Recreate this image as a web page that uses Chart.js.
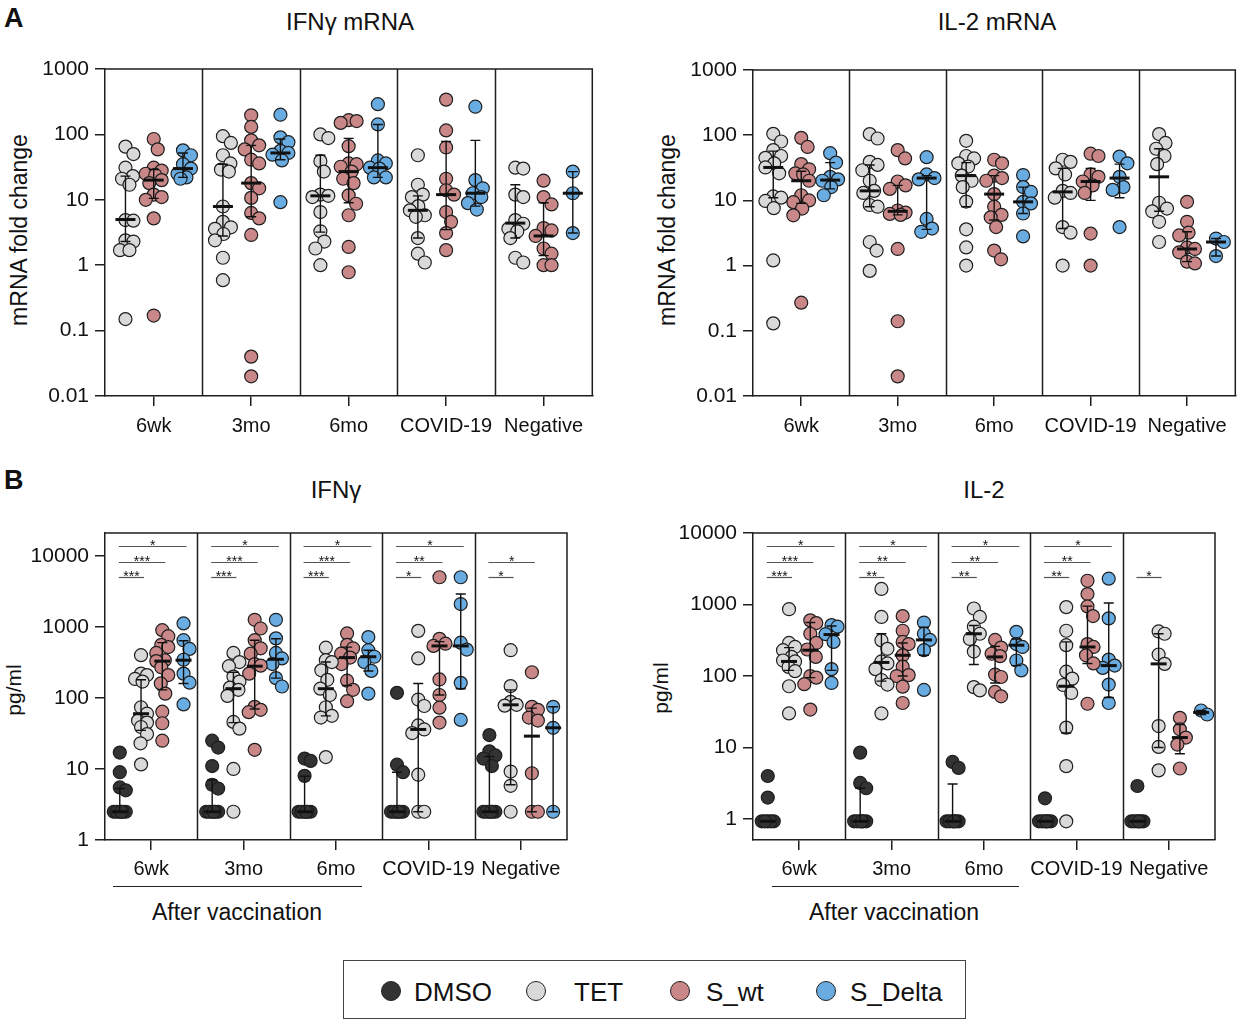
<!DOCTYPE html>
<html lang="en">
<head>
  <meta charset="UTF-8" />
  <title>IFNγ and IL-2 responses</title>
  <script src="https://cdn.jsdelivr.net/npm/chart.js"></script>
  <style>
    body { margin: 0; background: #fff; font-family: "Liberation Sans", Arial, sans-serif; color: #111; }
    .fig { position: relative; width: 1243px; height: 1020px; overflow: hidden; }
    .fig canvas { position: absolute; }
    .txt { position: absolute; transform: translate(-50%, -50%); white-space: nowrap; }
    .rot { transform: translate(-50%, -50%) rotate(-90deg); }
    .letter { position: absolute; font-weight: bold; font-size: 27px; line-height: 27px; }
    .rule { position: absolute; height: 0; border-top: 1.5px solid #222; }
    .legend { position: absolute; left: 343px; top: 960px; width: 621px; height: 57px; border: 1.5px solid #444; }
    .dot { position: absolute; width: 18px; height: 18px; border-radius: 50%; border: 1px solid #222; transform: translate(-50%, -50%); }
    .lab { position: absolute; font-size: 26px; transform: translateY(-50%); white-space: nowrap; }
  </style>
</head>
<body>
  <div class="fig">
    <div class="letter" style="left:4px; top:5px;">A</div>
    <div class="txt" style="left:350px; top:22px; font-size:24px;">IFNγ mRNA</div>
    <div class="txt" style="left:997px; top:22px; font-size:24px;">IL-2 mRNA</div>
    <div class="txt rot" style="left:19px; top:230px; font-size:23px;">mRNA fold change</div>
    <div class="txt rot" style="left:667px; top:230px; font-size:23px;">mRNA fold change</div>
    <canvas id="aIfn" width="600" height="400" style="left:0; top:50px;"></canvas>
    <canvas id="aIl2" width="603" height="400" style="left:640px; top:50px;"></canvas>

    <div class="letter" style="left:4px; top:467px;">B</div>
    <div class="txt" style="left:336px; top:490px; font-size:24px;">IFNγ</div>
    <div class="txt" style="left:984px; top:490px; font-size:24px;">IL-2</div>
    <div class="txt rot" style="left:14px; top:690px; font-size:21px;">pg/ml</div>
    <div class="txt rot" style="left:661px; top:688px; font-size:21px;">pg/ml</div>
    <canvas id="bIfn" width="600" height="380" style="left:0; top:500px;"></canvas>
    <canvas id="bIl2" width="603" height="380" style="left:640px; top:500px;"></canvas>

    <div class="rule" style="left:113px; top:886px; width:249px;"></div>
    <div class="txt" style="left:237px; top:912px; font-size:23px;">After vaccination</div>
    <div class="rule" style="left:772px; top:886px; width:247px;"></div>
    <div class="txt" style="left:894px; top:912px; font-size:23px;">After vaccination</div>

    <div class="legend" id="legend"></div>
  </div>

  <script>
    const groups = ['6wk', '3mo', '6mo', 'COVID-19', 'Negative'];
    const seriesA = ['TET', 'S_wt', 'S_Delta'];
    const seriesB = ['DMSO', 'TET', 'S_wt', 'S_Delta'];
    const ticksA = [0.01, 0.1, 1, 10, 100, 1000];
    const ticksB = [1, 10, 100, 1000, 10000];

    // A: IFNγ mRNA fold change, one list per group
    const aIfnTet = [
      [65, 50, 31, 23, 21, 17, 4.9, 4.8, 2.4, 2.3, 1.7, 1.7, 0.15],
      [94, 74, 48, 36, 29, 27, 7.9, 4.6, 3.8, 3.6, 3.0, 2.4, 1.3, 0.59],
      [100, 88, 39, 27, 12, 11.5, 11, 6.5, 3.3, 2.3, 1.8, 1.0],
      [48, 17, 12, 11, 8, 6.9, 5.8, 5.5, 2.6, 1.5, 1.1],
      [31, 30, 12, 11, 4.9, 4.3, 3.6, 3.3, 2.6, 1.3, 1.1]
    ];
    const aIfnSwt = [
      [85, 59, 31, 28, 25, 24, 20, 18, 12, 11, 10, 5.2, 0.17],
      [196, 130, 81, 68, 59, 41, 36, 18, 15, 10.7, 6.3, 5.2, 2.9, 0.04, 0.02],
      [165, 160, 150, 66, 36, 35, 32, 27, 21, 18, 11.7, 8.7, 5.8, 1.9, 0.78],
      [340, 115, 63, 21, 14, 12, 6.5, 4.6, 3.1, 1.7],
      [19.6, 11, 8.5, 3.7, 3.4, 2.8, 1.8, 1.5, 1.0, 1.0]
    ];
    const aIfnDelta = [
      [57, 48, 35, 30, 25, 22, 21],
      [200, 90, 76, 56, 52, 49, 40, 9.2],
      [290, 142, 40, 36, 31, 30, 22, 22],
      [265, 20, 15, 12.6, 11, 8.9, 7.1],
      [27, 12.6, 3.1]
    ];
    // [median, lower, upper] per group
    const aIfnTetSum = [[5, 2.3, 23], [7.9, 2.8, 35], [11.5, 3.2, 48], [6.9, 2.6, 11.5], [4.4, 2.6, 17]];
    const aIfnSwtSum = [[20, 10.5, 29], [18, 5.5, 68], [27, 9, 87], [12, 3.5, 78], [2.8, 1.4, 9]];
    const aIfnDeltaSum = [[30, 22, 52], [52, 41, 85], [31, 22, 142], [12.6, 8, 81], [12.6, 3.1, 27]];

    // A: IL-2 mRNA fold change
    const aIl2Tet = [
      [105, 80, 59, 48, 45, 37, 32, 26, 11.5, 11, 9.8, 7.6, 1.2, 0.13],
      [104, 89, 39, 35, 29, 20, 14, 13, 8.5, 8, 2.3, 1.7, 0.83],
      [82, 48, 44, 37, 33, 24, 20, 16, 9.6, 3.6, 1.9, 1.0],
      [42, 39, 31, 25, 14, 13, 11, 3.9, 3.2, 1.0],
      [104, 76, 62, 48, 36, 9.2, 7.5, 6.8, 4.7, 2.3]
    ];
    const aIl2Swt = [
      [91, 66, 36, 30, 26, 25, 20, 12, 10, 9.4, 7.5, 5.9, 0.27],
      [59, 44, 19.5, 17, 15, 7, 6.5, 6.2, 6, 1.8, 0.14, 0.02],
      [42, 37, 24, 22, 20, 12.5, 8, 6, 5.5, 3.9, 1.7, 1.25],
      [52, 48, 25, 23, 19.5, 17, 13, 3.1, 1.0],
      [9.5, 4.7, 3.2, 2.9, 1.9, 1.8, 1.6, 1.15, 1.08]
    ];
    const aIl2Delta = [
      [53, 38, 23, 21, 20, 16, 12],
      [46, 25, 22, 21, 5.2, 3.7, 3.3],
      [24.5, 16, 13.5, 9.5, 9, 6.3, 2.8],
      [47, 37, 23, 16, 14.5, 3.9],
      [2.6, 2.3, 1.4]
    ];
    const aIl2TetSum = [[32, 11, 57], [14, 8, 35], [24, 8, 38], [13.5, 3.7, 31], [23, 6.8, 62]];
    const aIl2SwtSum = [[20, 9, 28], [6.8, 6, 17], [12.5, 5, 24], [19.5, 10, 31], [1.8, 1.15, 3.3]];
    const aIl2DeltaSum = [[20.5, 15, 38], [22, 3.6, 24], [9.5, 6.3, 16], [22, 11, 36], [2.3, 1.4, 2.6]];

    // B: IFNγ pg/ml
    const bIfnDmso = [
      [17, 9, 5.5, 5, 2.5, 2.5, 2.5, 2.5, 2.5, 2.5],
      [25, 20, 11, 6, 5.3, 2.5, 2.5, 2.5, 2.5, 2.5, 2.5],
      [14, 13, 8, 2.5, 2.5, 2.5, 2.5, 2.5, 2.5],
      [118, 11.5, 9, 2.5, 2.5, 2.5, 2.5, 2.5, 2.5],
      [30, 17.7, 15.5, 14, 11, 2.5, 2.5, 2.5, 2.5, 2.5, 2.5]
    ];
    const bIfnTet = [
      [400, 220, 210, 185, 170, 74, 60, 48, 45, 39, 31, 23, 11.6],
      [430, 320, 280, 200, 170, 140, 130, 107, 46, 37, 10, 2.5],
      [510, 340, 320, 245, 180, 135, 110, 74, 56, 53, 14.7],
      [880, 360, 95, 77, 41, 36, 32, 8.3, 2.5, 2.5],
      [470, 147, 88, 80, 78, 9.2, 5.8, 2.5]
    ];
    const bIfnSwt = [
      [900, 740, 560, 520, 430, 340, 330, 270, 210, 160, 115, 64, 44, 25],
      [1260, 950, 650, 500, 420, 300, 285, 220, 75, 68, 63, 18.6],
      [810, 560, 500, 420, 370, 300, 175, 130, 90],
      [5000, 680, 580, 540, 182, 110, 73, 45],
      [230, 75, 68, 53, 48, 8.7, 2.5, 2.5]
    ];
    const bIfnDelta = [
      [1120, 650, 490, 345, 220, 164, 81],
      [1260, 690, 430, 360, 300, 190, 145],
      [720, 470, 380, 320, 240, 115],
      [5000, 2100, 600, 480, 163, 49],
      [75, 38, 2.5]
    ];
    const bIfnDmsoSum = [[2.5, 2.5, 5.3], [2.5, 2.5, 7], [2.5, 2.5, 7.9], [2.5, 2.5, 9], [2.5, 2.5, 15]];
    const bIfnTetSum = [[60, 35, 180], [135, 45, 230], [135, 56, 320], [36, 2.5, 160], [80, 6, 130]];
    const bIfnSwtSum = [[330, 130, 600], [280, 70, 650], [370, 150, 520], [540, 110, 620], [29, 2.5, 72]];
    const bIfnDeltaSum = [[340, 160, 640], [350, 190, 680], [380, 240, 470], [540, 135, 2900], [38, 2.5, 75]];
    const bIfnSig = [['***', '***', '*'], ['***', '***', '*'], ['***', '***', '*'], ['*', '**', '*'], ['*', '*']];

    // B: IL-2 pg/ml
    const bIl2Dmso = [
      [4, 2, 0.93, 0.93, 0.93, 0.93, 0.93],
      [8.5, 3.2, 2.7, 0.93, 0.93, 0.93, 0.93, 0.93, 0.93],
      [6.3, 5.2, 0.93, 0.93, 0.93, 0.93, 0.93, 0.93],
      [1.95, 0.93, 0.93, 0.93, 0.93, 0.93, 0.93],
      [2.9, 0.93, 0.93, 0.93, 0.93, 0.93, 0.93]
    ];
    const bIl2Tet = [
      [860, 290, 255, 230, 185, 165, 160, 134, 117, 72, 30],
      [1650, 670, 315, 240, 160, 150, 125, 88, 76, 30],
      [880, 670, 490, 390, 330, 220, 70, 63],
      [920, 430, 270, 115, 92, 75, 58, 19, 5.5, 0.93],
      [420, 390, 200, 148, 20, 10.2, 4.8]
    ];
    const bIl2Swt = [
      [600, 550, 390, 290, 235, 185, 100, 95, 77, 34],
      [690, 430, 300, 280, 195, 135, 103, 100, 71, 42],
      [320, 250, 205, 190, 105, 97, 60, 52],
      [2150, 1400, 940, 690, 280, 255, 195, 150, 41],
      [26, 18, 13.8, 11, 5.1]
    ];
    const bIl2Delta = [
      [515, 490, 385, 300, 125, 80],
      [560, 390, 320, 230, 64],
      [415, 280, 255, 165, 120],
      [2300, 640, 170, 140, 130, 76, 42],
      [33, 29]
    ];
    const bIl2DmsoSum = [[0.93, 0.93, 0.93], [0.93, 0.93, 2.7], [0.93, 0.93, 3.1], [0.93, 0.93, 0.93], [0.93, 0.93, 0.93]];
    const bIl2TetSum = [[160, 120, 250], [155, 85, 390], [390, 145, 510], [72, 16, 300], [148, 10, 390]];
    const bIl2SwtSum = [[230, 95, 560], [195, 100, 290], [185, 80, 260], [255, 150, 950], [13.8, 8.2, 21]];
    const bIl2DeltaSum = [[380, 120, 500], [320, 195, 480], [270, 140, 330], [140, 50, 1050], [31, 29, 33]];
    const bIl2Sig = [['***', '***', '*'], ['**', '**', '*'], ['**', '**', '*'], ['**', '**', '*'], ['*']];

    const colors = { DMSO: '#333333', TET: '#d9d9d9', S_wt: '#c98787', S_Delta: '#68ace2' };
    const font = '"Liberation Sans", Arial, sans-serif';
    const ink = '#1e1e1e';

    Chart.defaults.font.family = font;
    Chart.defaults.color = '#111';

    // simple beeswarm: spread equal-ish values sideways (in px), return offsets in x units
    function swarm(vals, pxX, pxDec, spread) {
      const placed = [];
      const offs = new Array(vals.length).fill(0);
      const order = vals.map((v, i) => i).sort((a, b) => vals[b] - vals[a]);
      order.forEach(i => {
        const py = Math.log10(vals[i]) * pxDec;
        let best = 0, bestD = -1;
        for (let k = 0; k <= spread * 4; k++) {
          const c = k === 0 ? 0 : (k % 2 ? 1 : -1) * Math.ceil(k / 2) * 0.5;
          let d = Infinity;
          placed.forEach(p => { d = Math.min(d, Math.hypot(c - p[0], py - p[1])); });
          if (d >= 11) { best = c; bestD = d; break; }
          if (d > bestD + 0.01) { best = c; bestD = d; }
        }
        placed.push([best, py]);
        offs[i] = best / pxX;
      });
      return offs;
    }

    // frame, dividers, significance lines, median + error bars
    function overlay(cfg) {
      return {
        id: 'overlay',
        beforeDatasetsDraw(chart) {
          const { ctx, chartArea: a, scales: { x } } = chart;
          ctx.save();
          ctx.strokeStyle = ink;
          ctx.lineWidth = 1.5;
          ctx.beginPath();
          for (let g = 0; g < groups.length - 1; g++) {
            const px = Math.round(x.getPixelForValue(g + 0.5)) + 0.5;
            ctx.moveTo(px, a.top);
            ctx.lineTo(px, a.bottom);
          }
          ctx.moveTo(a.left, a.top);
          ctx.lineTo(a.right, a.top);
          ctx.lineTo(a.right, a.bottom);
          ctx.stroke();

          if (cfg.sig) {
            const levels = [44, 29, 13];
            ctx.font = '14px ' + font;
            ctx.textAlign = 'center';
            ctx.textBaseline = 'alphabetic';
            cfg.sig.forEach((marks, g) => {
              marks.forEach((m, k) => {
                const x0 = x.getPixelForValue(g + cfg.offsets[0]) - 1;
                const x1 = x.getPixelForValue(g + cfg.offsets[k + 1]) + 3;
                const yy = a.top + levels[k] + 0.5;
                ctx.strokeStyle = '#555';
                ctx.lineWidth = 1.2;
                ctx.beginPath();
                ctx.moveTo(x0, yy);
                ctx.lineTo(x1, yy);
                ctx.stroke();
                ctx.fillStyle = '#111';
                ctx.fillText(m, (x0 + x1) / 2, yy + 3);
              });
            });
          }
          ctx.restore();
        },
        afterDatasetsDraw(chart) {
          const { ctx, scales: { x, y } } = chart;
          ctx.save();
          ctx.strokeStyle = '#111';
          cfg.sums.forEach((sum, s) => {
            sum.forEach(([med, lo, hi], g) => {
              const cx = x.getPixelForValue(g + cfg.offsets[s]);
              const yl = y.getPixelForValue(lo), yh = y.getPixelForValue(hi), ym = y.getPixelForValue(med);
              ctx.lineWidth = 1.4;
              ctx.beginPath();
              ctx.moveTo(cx, yl); ctx.lineTo(cx, yh);
              ctx.moveTo(cx - 5, yl); ctx.lineTo(cx + 5, yl);
              ctx.moveTo(cx - 5, yh); ctx.lineTo(cx + 5, yh);
              ctx.stroke();
              ctx.lineWidth = 3;
              ctx.beginPath();
              ctx.moveTo(cx - cfg.medHalf, ym); ctx.lineTo(cx + cfg.medHalf, ym);
              ctx.stroke();
            });
          });
          ctx.restore();
        }
      };
    }

    function makeChart(cfg) {
      const datasets = cfg.series.map((name, s) => ({
        label: name,
        data: cfg.values[s].flatMap((vals, g) => {
          const offs = swarm(vals, cfg.pxX, cfg.pxDec, cfg.spread);
          return vals.map((v, i) => ({ x: g + cfg.offsets[s] + offs[i], y: v }));
        }),
        backgroundColor: colors[name],
        borderColor: ink,
        borderWidth: 1.2,
        pointRadius: 6.5,
        pointHoverRadius: 6.5
      }));

      const axisGrid = { drawOnChartArea: false, drawTicks: true, tickLength: 10, color: ink, lineWidth: 1.5 };
      const axisBorder = { display: true, color: ink, width: 1.5 };

      new Chart(document.getElementById(cfg.id), {
        type: 'scatter',
        data: { datasets },
        options: {
          responsive: false,
          animation: false,
          events: [],
          layout: { padding: { top: cfg.padTop, right: cfg.padRight, left: 0, bottom: 0 } },
          plugins: { legend: { display: false }, tooltip: { enabled: false } },
          scales: {
            x: {
              type: 'linear',
              min: -0.5,
              max: groups.length - 0.5,
              afterBuildTicks: sc => { sc.ticks = groups.map((_, i) => ({ value: i })); },
              afterFit: sc => { sc.height = cfg.xh; },
              ticks: {
                callback: v => groups[v],
                font: { size: 20 },
                color: '#111',
                padding: cfg.xPad,
                maxRotation: 0,
                autoSkip: false
              },
              grid: axisGrid,
              border: axisBorder
            },
            y: {
              type: 'logarithmic',
              min: cfg.min,
              max: cfg.max,
              afterBuildTicks: sc => { sc.ticks = cfg.ticks.map(v => ({ value: v })); },
              afterFit: sc => { sc.width = cfg.yw; },
              ticks: {
                callback: v => String(v),
                font: { size: 21 },
                color: '#111',
                padding: 6,
                autoSkip: false
              },
              grid: axisGrid,
              border: axisBorder
            }
          }
        },
        plugins: [overlay(cfg)]
      });
    }

    makeChart({
      id: 'aIfn', series: seriesA, values: [aIfnTet, aIfnSwt, aIfnDelta],
      sums: [aIfnTetSum, aIfnSwtSum, aIfnDeltaSum], ticks: ticksA, min: 0.01, max: 1000,
      offsets: [-0.29, 0, 0.3], yw: 105, xh: 54, xPad: 8, padTop: 19, padRight: 5,
      pxX: 98, pxDec: 65.4, spread: 8, medHalf: 10
    });
    makeChart({
      id: 'aIl2', series: seriesA, values: [aIl2Tet, aIl2Swt, aIl2Delta],
      sums: [aIl2TetSum, aIl2SwtSum, aIl2DeltaSum], ticks: ticksA, min: 0.01, max: 1000,
      offsets: [-0.29, 0, 0.3], yw: 113, xh: 54, xPad: 8, padTop: 20, padRight: 2,
      pxX: 98, pxDec: 65.4, spread: 8, medHalf: 10
    });
    makeChart({
      id: 'bIfn', series: seriesB, values: [bIfnDmso, bIfnTet, bIfnSwt, bIfnDelta],
      sums: [bIfnDmsoSum, bIfnTetSum, bIfnSwtSum, bIfnDeltaSum], sig: bIfnSig,
      ticks: ticksB, min: 1, max: 21000,
      offsets: [-0.34, -0.11, 0.12, 0.35], yw: 105, xh: 40, xPad: 7, padTop: 33, padRight: 33,
      pxX: 92.4, pxDec: 71, spread: 6, medHalf: 8
    });
    makeChart({
      id: 'bIl2', series: seriesB, values: [bIl2Dmso, bIl2Tet, bIl2Swt, bIl2Delta],
      sums: [bIl2DmsoSum, bIl2TetSum, bIl2SwtSum, bIl2DeltaSum], sig: bIl2Sig,
      ticks: ticksB, min: 0.51, max: 10000,
      offsets: [-0.34, -0.11, 0.12, 0.35], yw: 113, xh: 40, xPad: 7, padTop: 33, padRight: 28,
      pxX: 92.4, pxDec: 71.5, spread: 6, medHalf: 8
    });

    // shared legend
    const legend = document.getElementById('legend');
    const legendDotX = [47, 192, 336, 482];
    const legendTextX = [70, 230, 362, 506];
    seriesB.forEach((name, i) => {
      const dot = document.createElement('div');
      dot.className = 'dot';
      dot.style.left = legendDotX[i] + 'px';
      dot.style.top = '30px';
      dot.style.background = colors[name];
      legend.appendChild(dot);
      const lab = document.createElement('div');
      lab.className = 'lab';
      lab.style.left = legendTextX[i] + 'px';
      lab.style.top = '31px';
      lab.textContent = name;
      legend.appendChild(lab);
    });
  </script>
</body>
</html>
